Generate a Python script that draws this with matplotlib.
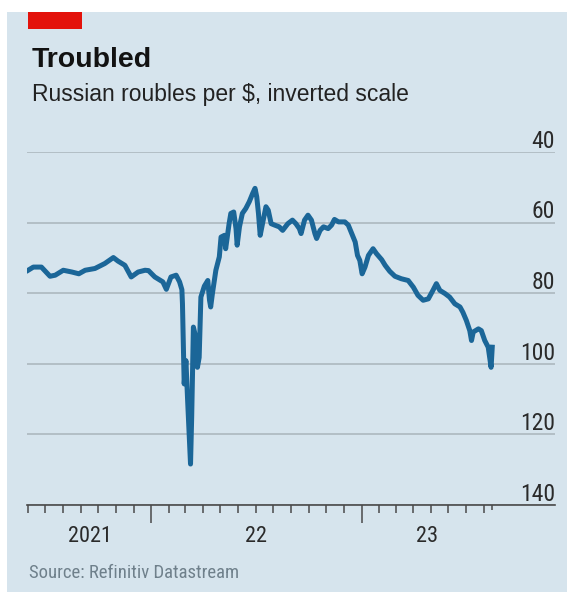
import numpy as np
import pandas as pd
import matplotlib
matplotlib.use('Agg')
import matplotlib.pyplot as plt
from matplotlib.patches import Rectangle
from matplotlib.transforms import blended_transform_factory

W, H = 567, 592

TITLE = 'Troubled'
SUBTITLE = 'Russian roubles per $, inverted scale'
SOURCE = 'Source: Refinitiv Datastream'

DATES = [
    '2021-06-01', '2021-06-10', '2021-06-24', '2021-07-09', '2021-07-18', '2021-08-01',
    '2021-08-16', '2021-08-28', '2021-09-08', '2021-09-25', '2021-10-12', '2021-10-27',
    '2021-11-04', '2021-11-16', '2021-11-27', '2021-12-09', '2021-12-21', '2021-12-27',
    '2022-01-07', '2022-01-21', '2022-01-27', '2022-02-04', '2022-02-13', '2022-02-19',
    '2022-02-23', '2022-02-24', '2022-02-26', '2022-02-27', '2022-03-02', '2022-03-05',
    '2022-03-10', '2022-03-12', '2022-03-15', '2022-03-19', '2022-03-22', '2022-03-25',
    '2022-03-28', '2022-04-03', '2022-04-09', '2022-04-12', '2022-04-14', '2022-04-17',
    '2022-04-23', '2022-04-29', '2022-05-02', '2022-05-08', '2022-05-10', '2022-05-16',
    '2022-05-19', '2022-05-24', '2022-05-28', '2022-05-30', '2022-06-03', '2022-06-08',
    '2022-06-14', '2022-06-20', '2022-06-26', '2022-06-30', '2022-07-03', '2022-07-06',
    '2022-07-09', '2022-07-13', '2022-07-19', '2022-07-23', '2022-07-28', '2022-08-03',
    '2022-08-11', '2022-08-17', '2022-08-26', '2022-09-03', '2022-09-09', '2022-09-15',
    '2022-09-18', '2022-09-24', '2022-09-30', '2022-10-06', '2022-10-12', '2022-10-15',
    '2022-10-21', '2022-10-27', '2022-11-04', '2022-11-10', '2022-11-15', '2022-11-22',
    '2022-12-03', '2022-12-09', '2022-12-15', '2022-12-21', '2022-12-25', '2022-12-29',
    '2023-01-02', '2023-01-07', '2023-01-13', '2023-01-21', '2023-01-27', '2023-02-05',
    '2023-02-11', '2023-02-19', '2023-02-28', '2023-03-11', '2023-03-23', '2023-04-01',
    '2023-04-09', '2023-04-18', '2023-04-27', '2023-05-05', '2023-05-11', '2023-05-17',
    '2023-05-26', '2023-06-03', '2023-06-12', '2023-06-21', '2023-06-26', '2023-07-02',
    '2023-07-08', '2023-07-11', '2023-07-14', '2023-07-23', '2023-07-28', '2023-08-03',
    '2023-08-09', '2023-08-14', '2023-08-16',
]
ROUBLES = [
    73.5, 72.6, 72.6, 75.2, 74.9, 73.5,
    74.0, 74.5, 73.5, 73.0, 71.6, 69.9,
    70.9, 72.1, 75.4, 74.0, 73.5, 73.6,
    75.4, 76.8, 78.9, 75.4, 74.9, 76.8,
    79.0, 83.0, 98.2, 105.7, 99.1, 110.5,
    128.4, 115.2, 89.6, 92.5, 101.0, 98.2,
    81.1, 78.0, 76.4, 82.0, 83.9, 80.1,
    73.5, 69.7, 64.1, 63.6, 67.4, 60.3,
    57.4, 57.0, 61.7, 66.4, 61.2, 57.4,
    56.0, 54.1, 51.7, 50.3, 52.7, 57.4,
    63.6, 60.3, 55.5, 56.5, 60.3, 60.7,
    61.2, 62.2, 60.3, 59.3, 60.3, 61.7,
    63.1, 59.3, 57.9, 59.3, 63.1, 64.5,
    62.2, 61.2, 61.7, 60.7, 59.1, 59.8,
    59.8, 60.7, 63.1, 65.5, 69.3, 70.7,
    74.5, 72.6, 69.3, 67.4, 68.8, 70.5,
    72.1, 73.8, 75.2, 75.9, 76.4, 78.3,
    80.6, 82.0, 81.6, 79.2, 77.3, 79.2,
    80.1, 81.1, 83.0, 83.9, 85.4, 87.7,
    90.6, 93.4, 91.0, 90.1, 90.6, 93.4,
    95.3, 101.0, 95.3,
]

Y_TICKS = [40, 60, 80, 100, 120, 140]
YEAR_STARTS = ['2022-01-01', '2023-01-01']
YEAR_LABELS = ['2021', '22', '23']
X_LIMITS = ['2021-05-30', '2023-12-03']

BG = '#d6e4ed'
LINE = '#1b6698'
GRID = '#a9b4bb'
AXIS = '#4a4a4a'

NARROW = ['Roboto Condensed', 'Open Sans Condensed', 'Liberation Sans Narrow',
          'Liberation Sans', 'DejaVu Sans']
SANS = ['Liberation Sans', 'DejaVu Sans']


def px(x, y):
    return x / W, 1 - y / H


def main():
    dates = pd.to_datetime(DATES)
    fig = plt.figure(figsize=(W / 100, H / 100), dpi=100, facecolor='white')

    # panel background and red tag
    fig.patches.append(Rectangle(px(7, H), (W - 7) / W, (H - 12) / H, transform=fig.transFigure,
                                 facecolor=BG, edgecolor='none', zorder=-2))
    fig.patches.append(Rectangle(px(28, 29), 54 / W, 17 / H, transform=fig.transFigure,
                                 facecolor='#e3120b', edgecolor='none', zorder=-1))

    fig.text(*px(32, 67), TITLE, fontsize=20.5, weight='bold', family=SANS,
             color='#121212', va='baseline')
    fig.text(*px(32, 101), SUBTITLE, fontsize=16.5, family=SANS, color='#222222', va='baseline')
    fig.text(*px(29, 578), SOURCE, fontsize=13.5, family=NARROW, color='#6f808b', va='baseline')

    ax = fig.add_axes([27 / W, (H - 505) / H, 528 / W, 353 / H])
    ax.set_facecolor('none')
    ax.plot(dates, ROUBLES, color=LINE, lw=3.6, solid_joinstyle='round', zorder=3)

    ax.set_ylim(Y_TICKS[-1], Y_TICKS[0])
    ax.set_xlim(pd.to_datetime(X_LIMITS[0]), pd.to_datetime(X_LIMITS[1]))

    ax.set_yticks(Y_TICKS)
    ax.yaxis.grid(True, color=GRID, lw=1.1)
    ax.set_axisbelow(True)
    ax.tick_params(axis='y', length=0, labelleft=False)
    for v in Y_TICKS:
        ax.annotate(str(v), xy=(1, v), xycoords=('axes fraction', 'data'),
                    xytext=(0, 3), textcoords='offset points', ha='right', va='baseline',
                    fontsize=17, family=NARROW, color='#2a2a2a', annotation_clip=False)

    for s in ['top', 'left', 'right']:
        ax.spines[s].set_visible(False)
    ax.spines['bottom'].set_color(AXIS)
    ax.spines['bottom'].set_linewidth(1.2)
    ax.spines['bottom'].set_zorder(4)

    year_starts = pd.to_datetime(YEAR_STARTS)
    months = pd.date_range(dates[0], dates[-1], freq='MS')
    ax.set_xticks(year_starts)
    ax.set_xticks([m for m in months if m.month != 1], minor=True)
    ax.tick_params(axis='x', which='major', length=13, width=1.1, color=AXIS, labelbottom=False)
    ax.tick_params(axis='x', which='minor', length=5.8, width=1.1, color=AXIS)

    # short tick marking the last observation
    trans = blended_transform_factory(ax.transData, ax.transAxes)
    ax.vlines(dates[-1], 0, -5 / 353, transform=trans, color=AXIS, lw=1.1, clip_on=False)

    # year labels centred on the visible part of each year
    bounds = [dates[0]] + list(year_starts) + [dates[-1]]
    for lab, a, b in zip(YEAR_LABELS, bounds[:-1], bounds[1:]):
        mid = a + (b - a) / 2
        ax.annotate(lab, xy=(mid, 0), xycoords=('data', 'axes fraction'),
                    xytext=(0, -37 * 0.72), textcoords='offset points', ha='center',
                    va='baseline', fontsize=16, family=NARROW, color='#2a2a2a',
                    annotation_clip=False)

    fig.savefig('out.png', dpi=100, facecolor='white')


if __name__ == '__main__':
    main()
